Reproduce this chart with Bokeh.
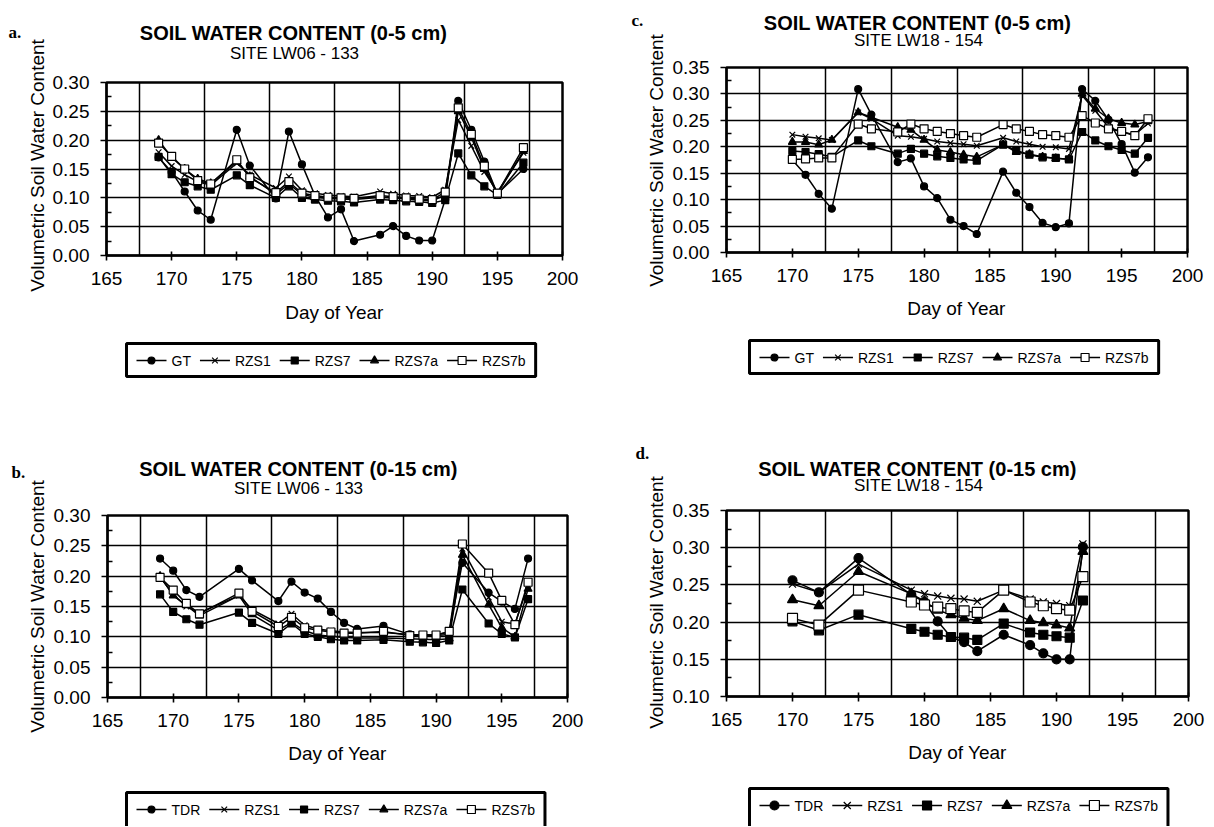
import numpy as np
from bokeh.plotting import figure
from bokeh.models import Range1d, FixedTicker, NumeralTickFormatter
from bokeh.layouts import row, column
from bokeh.embed import file_html
from bokeh.resources import INLINE
from bokeh.core.properties import value

# ---------------- data ----------------
# Panel a: 0-5 cm, site LW06-133
days_a = [169, 170, 171, 172, 173, 175, 176, 178, 179, 180, 181, 182, 183, 184,
          186, 187, 188, 189, 190, 191, 192, 193, 194, 195, 197]
gt_a = [0.170, 0.145, 0.111, 0.078, 0.062, 0.218, 0.156, 0.099, 0.215, 0.158, 0.104, 0.066, 0.080, 0.025,
        0.036, 0.051, 0.034, 0.026, 0.026, 0.097, 0.268, 0.218, 0.163, 0.107, 0.150]
rzs1_a = [0.179, 0.155, 0.140, 0.128, 0.122, 0.160, 0.140, 0.117, 0.137, 0.113, 0.108, 0.105, 0.103, 0.102,
          0.111, 0.107, 0.104, 0.103, 0.101, 0.114, 0.235, 0.190, 0.145, 0.110, 0.178]
rzs7_a = [0.171, 0.141, 0.127, 0.120, 0.114, 0.139, 0.122, 0.100, 0.120, 0.100, 0.097, 0.095, 0.094, 0.092,
          0.097, 0.096, 0.094, 0.093, 0.091, 0.096, 0.177, 0.139, 0.120, 0.105, 0.161]
rzs7a_a = [0.200, 0.170, 0.150, 0.133, 0.125, 0.163, 0.137, 0.106, 0.124, 0.106, 0.101, 0.099, 0.098, 0.097,
           0.101, 0.100, 0.098, 0.096, 0.095, 0.105, 0.250, 0.205, 0.150, 0.107, 0.181]
rzs7b_a = [0.195, 0.172, 0.150, 0.130, 0.124, 0.166, 0.135, 0.109, 0.128, 0.108, 0.104, 0.101, 0.100, 0.099,
           0.104, 0.102, 0.100, 0.098, 0.097, 0.110, 0.256, 0.210, 0.155, 0.108, 0.187]

# Panel b: 0-15 cm, site LW06-133
days_b = [169, 170, 171, 172, 175, 176, 178, 179, 180, 181, 182, 183, 184, 186,
          188, 189, 190, 191, 192, 194, 195, 196, 197]
tdr_b = [0.229, 0.209, 0.177, 0.166, 0.212, 0.193, 0.159, 0.191, 0.173, 0.163, 0.141, 0.123, 0.113, 0.118,
         0.104, 0.103, 0.103, 0.108, 0.222, 0.173, 0.158, 0.146, 0.229]
rzs1_b = [0.198, 0.170, 0.150, 0.140, 0.168, 0.145, 0.122, 0.138, 0.119, 0.113, 0.110, 0.108, 0.107, 0.107,
          0.104, 0.103, 0.102, 0.104, 0.245, 0.165, 0.125, 0.121, 0.185]
rzs7_b = [0.170, 0.141, 0.129, 0.120, 0.140, 0.123, 0.105, 0.122, 0.105, 0.100, 0.096, 0.094, 0.094, 0.095,
          0.092, 0.091, 0.090, 0.094, 0.178, 0.122, 0.105, 0.099, 0.162]
rzs7a_b = [0.200, 0.168, 0.152, 0.135, 0.168, 0.137, 0.111, 0.124, 0.110, 0.103, 0.101, 0.099, 0.098, 0.098,
           0.097, 0.096, 0.095, 0.097, 0.235, 0.153, 0.115, 0.100, 0.179]
rzs7b_b = [0.198, 0.177, 0.155, 0.138, 0.172, 0.142, 0.117, 0.132, 0.115, 0.111, 0.108, 0.106, 0.106, 0.109,
           0.102, 0.103, 0.103, 0.109, 0.253, 0.205, 0.160, 0.120, 0.190]

# Panel c: 0-5 cm, site LW18-154
days_c = [170, 171, 172, 173, 175, 176, 178, 179, 180, 181, 182, 183, 184, 186,
          187, 188, 189, 190, 191, 192, 193, 194, 195, 196, 197]
gt_c = [0.175, 0.147, 0.111, 0.083, 0.309, 0.261, 0.171, 0.178, 0.125, 0.103, 0.062, 0.050, 0.035, 0.153,
        0.113, 0.086, 0.056, 0.048, 0.055, 0.309, 0.287, 0.251, 0.205, 0.151, 0.180]
rzs1_c = [0.223, 0.219, 0.216, 0.213, 0.265, 0.253, 0.221, 0.219, 0.215, 0.210, 0.207, 0.205, 0.202, 0.217,
          0.210, 0.205, 0.200, 0.199, 0.196, 0.297, 0.268, 0.237, 0.228, 0.223, 0.244]
rzs7_c = [0.192, 0.190, 0.186, 0.181, 0.212, 0.201, 0.187, 0.196, 0.187, 0.182, 0.179, 0.176, 0.174, 0.204,
          0.193, 0.185, 0.180, 0.179, 0.176, 0.228, 0.212, 0.201, 0.194, 0.187, 0.217]
rzs7a_c = [0.209, 0.209, 0.204, 0.213, 0.265, 0.256, 0.237, 0.232, 0.213, 0.194, 0.190, 0.185, 0.181, 0.204,
           0.190, 0.186, 0.181, 0.178, 0.177, 0.300, 0.272, 0.253, 0.245, 0.242, 0.248]
rzs7b_c = [0.176, 0.177, 0.179, 0.179, 0.243, 0.234, 0.228, 0.243, 0.234, 0.229, 0.225, 0.221, 0.218, 0.242,
           0.234, 0.229, 0.223, 0.221, 0.218, 0.259, 0.245, 0.234, 0.229, 0.221, 0.253]

# Panel d: 0-15 cm, site LW18-154
days_d = [170, 172, 175, 179, 180, 181, 182, 183, 184, 186, 188, 189, 190, 191, 192]
tdr_d = [0.256, 0.240, 0.286, 0.237, 0.227, 0.201, 0.180, 0.173, 0.161, 0.183, 0.169, 0.158, 0.150, 0.150, 0.301]
rzs1_d = [0.251, 0.240, 0.278, 0.243, 0.238, 0.235, 0.232, 0.231, 0.228, 0.243, 0.231, 0.227, 0.225, 0.222, 0.305]
rzs7_d = [0.201, 0.189, 0.210, 0.191, 0.187, 0.183, 0.180, 0.179, 0.176, 0.198, 0.186, 0.183, 0.181, 0.179, 0.229]
rzs7a_d = [0.230, 0.222, 0.268, 0.238, 0.228, 0.216, 0.210, 0.205, 0.202, 0.218, 0.202, 0.199, 0.196, 0.192, 0.295]
rzs7b_d = [0.205, 0.196, 0.243, 0.227, 0.223, 0.220, 0.218, 0.215, 0.213, 0.243, 0.227, 0.222, 0.218, 0.216, 0.261]

names_gt = ["GT", "RZS1", "RZS7", "RZS7a", "RZS7b"]
names_tdr = ["TDR", "RZS1", "RZS7", "RZS7a", "RZS7b"]
x_ticks = [165, 170, 175, 180, 185, 190, 195, 200]
x_grid = [167.5, 172.5, 177.5, 182.5, 187.5, 192.5, 197.5]

SANS = "Liberation Sans"
SERIF = "Liberation Serif"
LEG_FONT = 14
# approximate advance widths (per em) of Liberation Sans, for laying out the legend
CHAR_W = {"G": 0.778, "T": 0.611, "D": 0.722, "R": 0.722, "Z": 0.611, "S": 0.667,
          "1": 0.556, "7": 0.556, "a": 0.556, "b": 0.556}


def text_width(s, size):
    return sum(CHAR_W.get(c, 0.6) for c in s) * size


def marker_styles(msize):
    return [("circle", "black", msize), ("x", "black", msize + 1),
            ("square", "black", msize), ("triangle", "black", msize + 1),
            ("square", "white", msize + 1)]


def text_fig(x0, y0, W, H):
    """A blank figure whose data units are page pixels (x right, -y = page y)."""
    f = figure(width=W, height=H, x_range=Range1d(x0, x0 + W), y_range=Range1d(-(y0 + H), -y0),
               x_axis_type=None, y_axis_type=None, toolbar_location=None, output_backend="svg",
               min_border=0, min_border_left=0, min_border_right=0, min_border_top=0,
               min_border_bottom=0, outline_line_color=None)
    f.background_fill_color = "white"
    f.border_fill_color = "white"
    return f


def put_text(f, X, Y, s, size, style="normal", align="center", baseline="alphabetic",
             font=SANS, angle=0.0):
    f.text(x=[X], y=[-Y], text=[s], text_font=value(font), text_font_size=value(f"{size}px"),
           text_font_style=style, text_align=align, text_baseline=baseline, text_color="black",
           angle=angle)


def strip(x0, y0, W, H, letter, letter_xy, ytitle_xy):
    f = text_fig(x0, y0, W, H)
    put_text(f, letter_xy[0], letter_xy[1], letter, 17, style="bold", align="left", font=SERIF)
    put_text(f, ytitle_xy[0], ytitle_xy[1], "Volumetric Soil Water Content", 19,
             baseline="middle", angle=np.pi / 2)
    return f


def header(x0, y0, W, H, title, title_xy, sub, sub_xy):
    f = text_fig(x0, y0, W, H)
    put_text(f, title_xy[0], title_xy[1], title, 20, style="bold")
    put_text(f, sub_xy[0], sub_xy[1], sub, 17)
    return f


def footer(x0, y0, W, H, xtitle_xy, names, leg_left, leg_top, leg_h, msize):
    f = text_fig(x0, y0, W, H)
    put_text(f, xtitle_xy[0], xtitle_xy[1], "Day of Year", 19)
    pad, gw, g2t, t2g = 10, 30, 5, 9
    xs, x = [], leg_left + pad
    for n in names:
        xs.append(x)
        x += gw + g2t + text_width(n, LEG_FONT) + t2g
    leg_w = x - t2g + pad - leg_left
    f.quad(left=[leg_left], right=[leg_left + leg_w], top=[-leg_top], bottom=[-(leg_top + leg_h)],
           fill_color="white", line_color="black", line_width=3)
    cy = leg_top + 17
    for n, gx, (mk, fc, sz) in zip(names, xs, marker_styles(msize)):
        f.segment(x0=[gx], y0=[-cy], x1=[gx + gw], y1=[-cy], line_color="black", line_width=1.5)
        f.scatter(x=[gx + gw / 2], y=[-cy], marker=mk, size=sz, fill_color=fc, line_color="black",
                  line_width=1.2)
        put_text(f, gx + gw + g2t, cy, n, LEG_FONT, align="left", baseline="middle")
    return f


def plot(W, H, bl, br, bt, bb, ymin, ymax, days, series, msize):
    p = figure(width=W, height=H, x_range=Range1d(165, 200), y_range=Range1d(ymin, ymax),
               output_backend="svg", toolbar_location=None,
               min_border_left=bl, min_border_right=br, min_border_top=bt, min_border_bottom=bb)
    majors = [round(v, 3) for v in np.arange(ymin, ymax + 1e-9, 0.05)]
    minors = [round(v, 4) for v in np.arange(ymin + 0.025, ymax, 0.05)]
    p.yaxis.ticker = FixedTicker(ticks=majors, minor_ticks=minors)
    p.xaxis.ticker = FixedTicker(ticks=x_ticks, minor_ticks=[])
    p.xgrid.ticker = FixedTicker(ticks=x_grid)
    p.yaxis.formatter = NumeralTickFormatter(format="0.00")

    for ax in (p.xaxis, p.yaxis):
        ax.axis_line_color = "black"
        ax.axis_line_width = 2
        ax.major_tick_line_color = "black"
        ax.major_tick_line_width = 1.6
        ax.major_label_text_font = SANS
        ax.major_label_text_font_size = "19px"
        ax.major_label_text_color = "black"
        ax.major_label_standoff = 11
    p.xaxis.major_tick_in = 4
    p.xaxis.major_tick_out = 5
    p.xaxis.minor_tick_line_color = None
    p.yaxis.major_tick_in = 0
    p.yaxis.major_tick_out = 6
    p.yaxis.minor_tick_in = 5
    p.yaxis.minor_tick_out = 0
    p.yaxis.minor_tick_line_color = "black"
    p.yaxis.minor_tick_line_width = 1.6

    p.grid.grid_line_color = "black"
    p.grid.grid_line_width = 1.5
    p.outline_line_color = "black"
    p.outline_line_width = 2.5
    p.background_fill_color = "white"
    p.border_fill_color = "white"

    for vals in series:
        p.line(days, vals, line_color="black", line_width=1.5)
    for vals, (mk, fc, sz) in zip(series, marker_styles(msize)):
        p.scatter(days, vals, marker=mk, size=sz, fill_color=fc, line_color="black", line_width=1.2)
    return p


def panel(strip_f, header_f, plot_f, footer_f):
    # each figure sits in its own container so that Bokeh does not align their frames
    return row(column(strip_f), column(row(header_f), row(plot_f), row(footer_f)))


# ---- column 1 (strip x 0..48, main x 48..620) ----
A = panel(strip(0, 0, 48, 400, "a.", (8, 32), (36.5, 165)),
          header(48, 0, 572, 70, "SOIL WATER CONTENT (0-5 cm)", (293, 32), "SITE LW06 - 133", (294, 53)),
          plot(572, 227, 58, 58, 12, 42, 0.0, 0.30, days_a, [gt_a, rzs1_a, rzs7_a, rzs7a_a, rzs7b_a], 7),
          footer(48, 297, 572, 103, (334, 312), names_gt, 126, 343, 33, 7))

B = panel(strip(0, 400, 48, 426, "b.", (11, 472), (37, 606)),
          header(48, 400, 572, 103, "SOIL WATER CONTENT (0-15 cm)", (298, 468), "SITE LW06 - 133", (298, 488)),
          plot(572, 236, 59, 53, 12, 42, 0.0, 0.30, days_b, [tdr_b, rzs1_b, rzs7_b, rzs7a_b, rzs7b_b], 7),
          footer(48, 739, 572, 87, (337, 753), names_tdr, 126, 792, 42, 7))

# ---- column 2 (strip x 620..668, main x 668..1212) ----
C = panel(strip(620, 0, 48, 400, "c.", (631, 20), (656, 160)),
          header(668, 0, 544, 55, "SOIL WATER CONTENT (0-5 cm)", (917, 22), "SITE LW18 - 154", (918, 40)),
          plot(544, 239, 58, 25, 12, 42, 0.0, 0.35, days_c, [gt_c, rzs1_c, rzs7_c, rzs7a_c, rzs7b_c], 7),
          footer(668, 294, 544, 106, (956, 308), names_gt, 749, 340, 33, 7))

D = panel(strip(620, 400, 48, 426, "d.", (635, 453), (656, 602)),
          header(668, 400, 544, 98, "SOIL WATER CONTENT (0-15 cm)", (917, 468), "SITE LW18 - 154", (918, 485)),
          plot(544, 240, 58, 24, 12, 42, 0.10, 0.35, days_d, [tdr_d, rzs1_d, rzs7_d, rzs7a_d, rzs7b_d], 9),
          footer(668, 738, 544, 88, (957, 752), names_tdr, 749, 788, 42, 9))

layout = column(row(A, C), row(B, D))
open("out.html", "w").write(file_html(layout, INLINE))
